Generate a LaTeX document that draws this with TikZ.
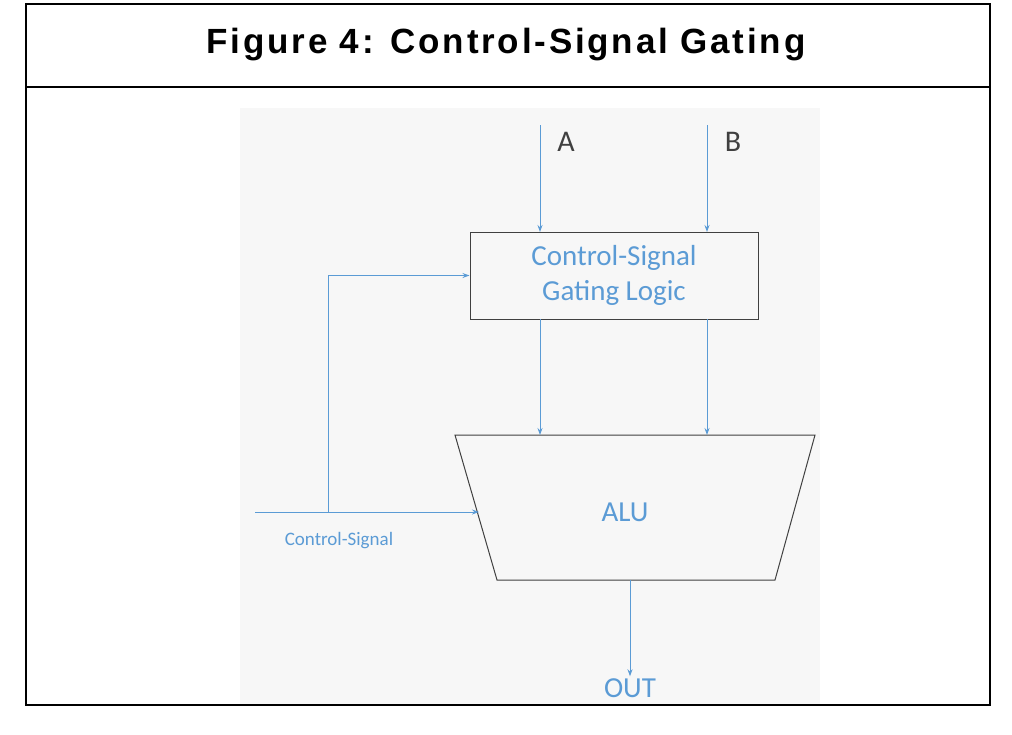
\documentclass[tikz,border=0pt]{standalone}
\usepackage{fontspec}
\setmainfont{Liberation Sans}
\newfontfamily\calfont{Carlito}
\newfontfamily\titlefont[LetterSpace=8]{Liberation Sans}
\definecolor{lb}{HTML}{5B9BD5}
\usetikzlibrary{arrows.meta}
\begin{document}
\begin{tikzpicture}[x=1pt,y=-1pt,
  wire/.style={draw=lb,line width=1pt,-{Stealth[length=7pt,width=5pt]}},
  blk/.style={draw=black!75,line width=1pt},
  lbl/.style={font=\calfont\fontsize{29}{35}\selectfont,text=lb}]
\useasboundingbox (0,0) rectangle (1012,734);
\fill[white] (0,0) rectangle (1012,734);
\fill[black!3] (240,108) rectangle (820,705);
\draw[line width=1.5pt] (26,4) rectangle (990,705);
\draw[line width=1.5pt] (26,87) -- (990,87);
\node (title) at (506,45) {\titlefont\bfseries\fontsize{35}{40}\selectfont Figure 4: Control-Signal Gating};
\node[blk,minimum width=288,minimum height=87,inner sep=0,align=center,lbl] (gate) at (614,275.5) {Control-Signal\\Gating Logic};
\coordinate (tl) at (455,435); \coordinate (tr) at (815,435);
\coordinate (br) at (775,580); \coordinate (bl) at (497,580);
\draw[blk] (tl) -- (tr) -- (br) -- (bl) -- cycle;
\node[lbl] (alu) at (625,512) {ALU};
\coordinate (a0) at (540,125); \coordinate (b0) at (707,125);
\node[font=\calfont\fontsize{30}{34}\selectfont,text=black!75] (A) at (566,142) {A};
\node[font=\calfont\fontsize{30}{34}\selectfont,text=black!75] (B) at (733,142) {B};
\draw[wire] (a0) -- (540,232);
\draw[wire] (b0) -- (707,232);
\draw[wire] (540,319) -- (540,435);
\draw[wire] (707,319) -- (707,435);
\coordinate (cs) at (255,512); \coordinate (br1) at (328,512);
\draw[wire] (cs) -- (479,512);
\draw[wire] (br1) -- (br1 |- gate.west) -- (gate.west);
\node[font=\calfont\fontsize{19}{22}\selectfont,text=lb] (csl) at (339,541) {Control-Signal};
\coordinate (o0) at (630,580);
\node[lbl,inner sep=2pt] (out) at (630,688) {OUT};
\draw[wire] (o0) -- (out.north);
\end{tikzpicture}
\end{document}
